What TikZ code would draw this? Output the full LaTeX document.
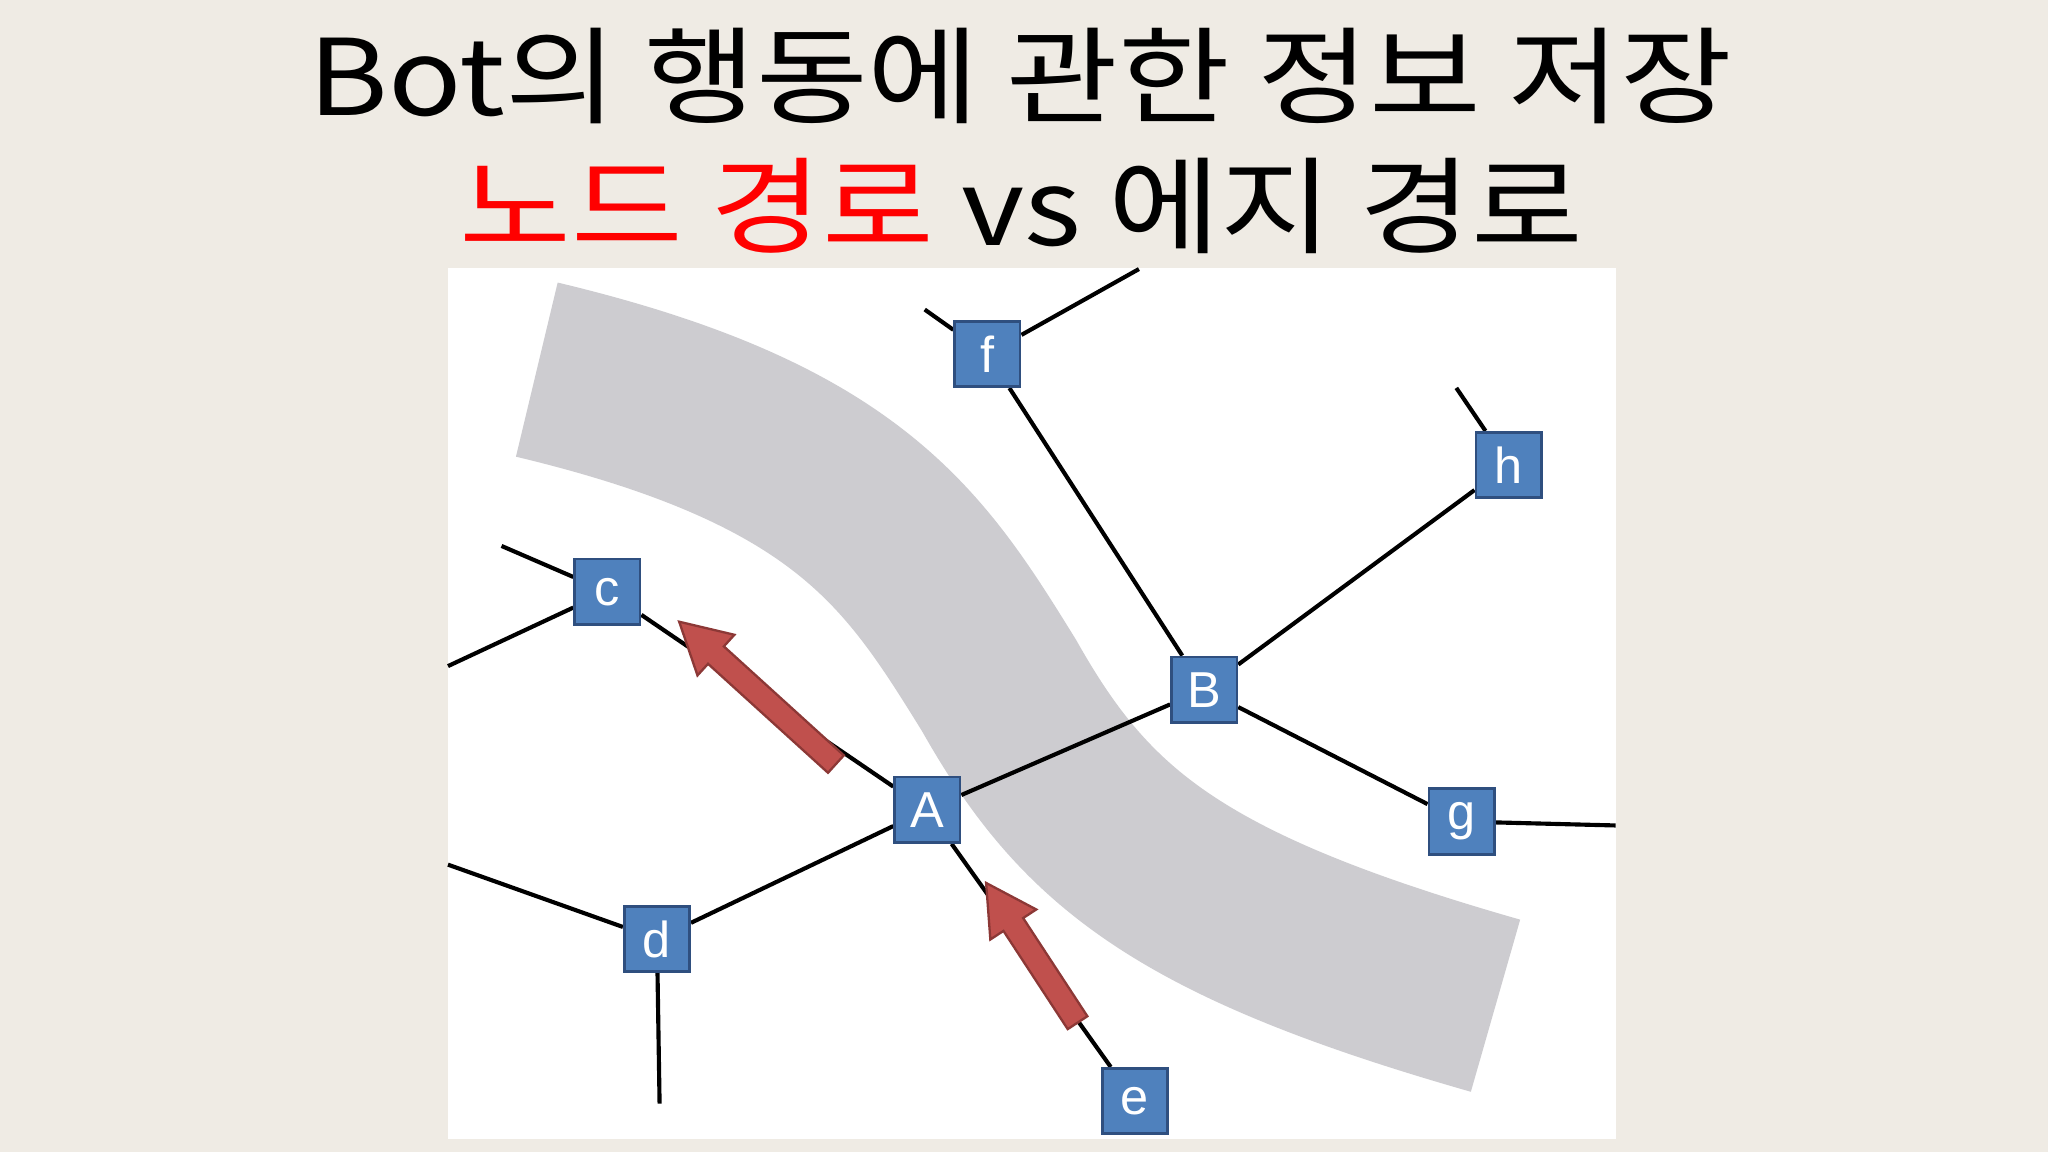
\documentclass[tikz,border=0pt]{standalone}
\usepackage{fontspec}
\setmainfont{Liberation Sans}
\newfontfamily\kr{Noto Sans CJK KR}
\usetikzlibrary{arrows.meta,calc}
\definecolor{bg}{HTML}{EFEBE4}
\definecolor{band}{HTML}{CDCCD0}
\definecolor{nb}{HTML}{4F81BD}
\definecolor{nbd}{HTML}{2F4F7F}
\definecolor{ar}{HTML}{C0504D}
\definecolor{ard}{HTML}{8C3836}
\begin{document}
\begin{tikzpicture}[x=0.01cm,y=-0.01cm,
  nd/.style={draw=nbd,line width=0.6pt,fill=nb,minimum size=0.5cm,inner sep=0pt,text=white,font=\fontsize{11}{11}\selectfont},
  ed/.style={line width=0.9pt,black},
  rarrow/.style={draw=ard,line width=0.5pt,fill=ar},
  ttl/.style={font=\kr\fontsize{23}{23}\selectfont,xscale=1.15}]
\fill[bg] (0,0) rectangle (1568,882);
\fill[white] (343,205) rectangle (1237,872);
\draw[band,line width=1.37cm] (411,283) .. controls (650,340) and (700,420) .. (765,525) .. controls (830,640) and (900,700) .. (1145,770);
\node[ttl] (t1) at (781,58) {Bot의 행동에 관한 정보 저장};
\node[ttl] (t2) at (782,158) {\textcolor{red}{노드 경로} vs 에지 경로};
\node[nd] (f) at (756,271) {f};
\node[nd] (h) at (1155,356) {h};
\node[nd] (c) at (465,453) {c};
\node[nd] (B) at (922,528) {B};
\node[nd] (A) at (710,620) {A};
\node[nd] (g) at (1119,629) {g};
\node[nd] (d) at (503,719) {d};
\node[nd] (e) at (869,843) {e};
\coordinate (f1) at (708,237); \coordinate (f2) at (872,206);
\coordinate (h1) at (1115,297); \coordinate (c1) at (384,418);
\coordinate (c2) at (343,510); \coordinate (g1) at (1237,632);
\coordinate (d1) at (343,662); \coordinate (d2) at (505,845);
\draw[ed] (f) -- (f1) (f) -- (f2) (f) -- (B) (h) -- (h1) (h) -- (B)
  (c) -- (c1) (c) -- (c2) (c) -- (A) (B) -- (A) (B) -- (g) (g) -- (g1)
  (A) -- (d) (A) -- (e) (d) -- (d1) (d) -- (d2);
\foreach \n in {f,h,c,B,A,g,d,e} {\node[nd] at (\n) {\n};}
\coordinate (a1s) at (640,585); \coordinate (a1e) at (520,476);
\coordinate (a2s) at (825,783); \coordinate (a2e) at (755,676);
\foreach \s/\e in {a1s/a1e,a2s/a2e}{
  \coordinate (H) at ($(\e)!3.8mm!(\s)$);
  \fill[rarrow] ($(\s)!0.9mm!90:(\e)$) -- ($(H)!0.9mm!90:(\e)$) -- ($(H)!2.1mm!90:(\e)$) -- (\e)
    -- ($(H)!2.1mm!-90:(\e)$) -- ($(H)!0.9mm!-90:(\e)$) -- ($(\s)!0.9mm!-90:(\e)$) -- cycle;
}
\end{tikzpicture}
\end{document}
